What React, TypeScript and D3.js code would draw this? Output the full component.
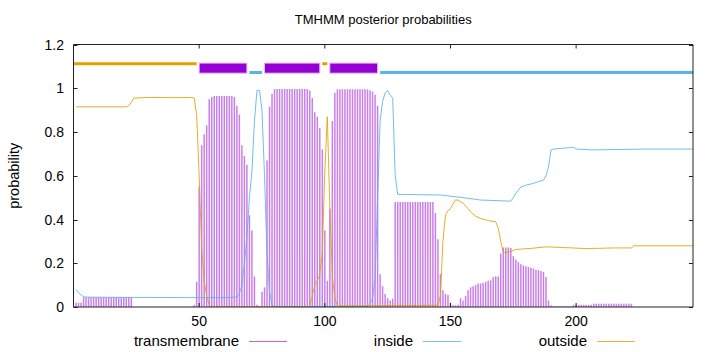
import React from 'react';
import * as d3 from 'd3';

// TMHMM per-residue posterior probabilities
const xDomain = [0, 246.5];
const yTicks = [0, 0.2, 0.4, 0.6, 0.8, 1, 1.2];
const xTicks = [50, 100, 150, 200];

// transmembrane probability, residue 1..247 (drawn as impulses)
const transmembrane = [
  0.02, 0.02, 0.02, 0.045, 0.045, 0.045, 0.045, 0.045, 0.045, 0.045,
  0.045, 0.045, 0.045, 0.045, 0.045, 0.045, 0.045, 0.045, 0.045, 0.045,
  0.045, 0.045, 0.045, 0, 0, 0, 0, 0, 0, 0,
  0, 0, 0, 0, 0, 0, 0, 0, 0, 0,
  0, 0, 0, 0, 0, 0, 0, 0.01, 0.115, 0.55,
  0.74, 0.79, 0.83, 0.95, 0.96, 0.965, 0.965, 0.965, 0.965, 0.965,
  0.965, 0.965, 0.965, 0.96, 0.92, 0.88, 0.74, 0.69, 0.65, 0.42,
  0.35, 0.14, 0.01, 0.005, 0.07, 0.09, 0.67, 0.915, 0.975, 0.997,
  0.997, 0.997, 0.997, 0.997, 0.997, 0.997, 0.997, 0.997, 0.997, 0.997,
  0.997, 0.997, 0.997, 0.99, 0.955, 0.89, 0.87, 0.82, 0.72, 0.35,
  0.12, 0.45, 0.85, 0.98, 0.996, 0.996, 0.996, 0.996, 0.996, 0.996,
  0.996, 0.996, 0.996, 0.996, 0.996, 0.996, 0.996, 0.99, 0.985, 0.97,
  0.92, 0.15, 0.095, 0.06, 0.04, 0.03, 0.038, 0.48, 0.48, 0.48,
  0.48, 0.48, 0.48, 0.48, 0.48, 0.48, 0.48, 0.48, 0.48, 0.48,
  0.48, 0.48, 0.48, 0.43, 0.31, 0.15, 0.077, 0.06, 0.055, 0.02,
  0.008, 0.008, 0.01, 0.04, 0.03, 0.05, 0.077, 0.09, 0.095, 0.1,
  0.107, 0.107, 0.11, 0.115, 0.12, 0.122, 0.137, 0.14, 0.14, 0.245,
  0.272, 0.272, 0.272, 0.27, 0.232, 0.217, 0.206, 0.196, 0.19, 0.186,
  0.183, 0.18, 0.176, 0.17, 0.168, 0.165, 0.16, 0.137, 0.03, 0.008,
  0.003, 0.003, 0.003, 0.003, 0.003, 0.003, 0.003, 0.003, 0.01, 0.01,
  0.01, 0.01, 0.01, 0.01, 0.01, 0.01, 0.015, 0.015, 0.015, 0.015,
  0.015, 0.015, 0.015, 0.015, 0.015, 0.015, 0.015, 0.015, 0.015, 0.015,
  0.015, 0.015, 0, 0, 0, 0, 0, 0, 0, 0,
  0, 0, 0, 0, 0, 0, 0, 0, 0, 0,
  0, 0, 0, 0, 0, 0, 0,
];

// [residue, probability]
const inside = [
  [1, 0.08], [2, 0.066], [3, 0.055], [4, 0.048], [5, 0.045], [20, 0.044],
  [45, 0.043], [60, 0.043], [65, 0.045], [66, 0.06], [67, 0.1], [68, 0.2],
  [69, 0.32], [70, 0.5], [71, 0.62], [72, 0.85], [73, 0.99], [74, 0.99],
  [75, 0.9], [76, 0.6], [77, 0.25], [78, 0.07], [79, 0.01], [80, 0.002],
  [117, 0.003], [118, 0.015], [119, 0.04], [120, 0.13], [121, 0.5],
  [122, 0.85], [123, 0.94], [124, 0.98], [125, 0.99], [126, 0.97],
  [127, 0.955], [128, 0.6], [129, 0.515], [146, 0.512], [155, 0.5],
  [162, 0.489], [174, 0.484], [175, 0.5], [176, 0.52], [177, 0.535],
  [178, 0.548], [180, 0.557], [183, 0.565], [185, 0.573], [187, 0.58],
  [188, 0.6], [189, 0.64], [190, 0.718], [191, 0.722], [199, 0.73],
  [200, 0.722], [207, 0.718], [227, 0.722], [247, 0.722],
];

const outside = [
  [1, 0.915], [21, 0.915], [22, 0.92], [23, 0.935], [24, 0.955], [30, 0.958],
  [40, 0.957], [47, 0.958], [48, 0.955], [49, 0.88], [50, 0.6], [51, 0.27],
  [52, 0.12], [53, 0.05], [54, 0.01], [55, 0], [93, 0], [94, 0.005],
  [95, 0.05], [96, 0.1], [97, 0.12], [98, 0.15], [99, 0.25], [100, 0.62],
  [101, 0.87], [102, 0.45], [103, 0.14], [104, 0.04], [105, 0.005],
  [145, 0.008], [146, 0.05], [147, 0.3], [148, 0.42], [149, 0.44],
  [150, 0.45], [151, 0.47], [152, 0.49], [153, 0.488], [155, 0.475],
  [157, 0.45], [158, 0.435], [160, 0.415], [162, 0.405], [165, 0.395],
  [168, 0.39], [169, 0.36], [170, 0.3], [171, 0.25], [173, 0.25],
  [176, 0.263], [182, 0.268], [188, 0.275], [195, 0.272], [204, 0.267],
  [215, 0.27], [222, 0.27], [223, 0.28], [247, 0.28],
];

// predicted topology shown above the curves
const segStart = [0, 50, 70, 76, 99, 102, 122];
const segEnd = [49, 69, 75, 98, 101, 121, 247];
const segType = ['outside', 'TM', 'inside', 'TM', 'outside', 'TM', 'inside'];

const W = 720;
const H = 352;
const left = 73.5, right = 693, top = 44.5, bottom = 307;

const purple = '#9400d3';
const blue = '#56b4e9';
const orange = '#e69f00';
const font = '"Liberation Sans", Arial, sans-serif';

export default function App() {
  const x = d3.scaleLinear().domain(xDomain).range([left, right]);
  const y = d3.scaleLinear().domain([0, 1.2]).range([bottom, top]);
  const line = d3.line<number[]>().x(d => x(d[0])).y(d => y(d[1]));

  return (
    <svg width={W} height={H} style={{ position: 'absolute', left: 0, top: 0 }}
      fontFamily={font}>
      <defs>
        <clipPath id="plot">
          <rect x={left} y={top} width={right - left} height={bottom - top} />
        </clipPath>
      </defs>
      <rect width={W} height={H} fill="#fff" />

      <text x={(left + right) / 2} y={24} textAnchor="middle" fontSize={13}>
        TMHMM posterior probabilities
      </text>

      <g clipPath="url(#plot)">
        {transmembrane.map((v, i) => (
          <line key={i} x1={x(i + 1)} x2={x(i + 1)} y1={y(0)} y2={y(v)}
            stroke={purple} strokeWidth={1.5} strokeOpacity={0.5} />
        ))}
        <path d={line(inside) ?? ''} fill="none" stroke={blue} strokeWidth={1} strokeOpacity={0.85} />
        <path d={line(outside) ?? ''} fill="none" stroke={orange} strokeWidth={1} strokeOpacity={0.85} />

        {segType.map((t, i) => {
          if (t === 'TM') {
            return (
              <rect key={i} x={x(segStart[i])} width={x(segEnd[i]) - x(segStart[i])}
                y={y(1.115)} height={y(1.069) - y(1.115)}
                fill={purple} stroke="#e2b8f2" strokeWidth={1} />
            );
          }
          const yy = t === 'outside' ? 1.112 : 1.0725;
          return (
            <line key={i} x1={x(segStart[i])} x2={x(segEnd[i])} y1={y(yy)} y2={y(yy)}
              stroke={t === 'outside' ? orange : blue} strokeWidth={3} />
          );
        })}
      </g>

      {/* frame */}
      <line x1={left} x2={left} y1={top} y2={bottom} stroke="#222" />
      <line x1={left} x2={right} y1={top} y2={top} stroke="#222" />
      <line x1={right} x2={right} y1={top} y2={bottom} stroke="#222" />
      <line x1={left} x2={right} y1={bottom} y2={bottom} stroke="#222" />

      {yTicks.map(t => (
        <g key={t}>
          <line x1={left} x2={left + 4} y1={Math.round(y(t)) + 0.5} y2={Math.round(y(t)) + 0.5} stroke="#222" />
          <line x1={right - 4} x2={right} y1={Math.round(y(t)) + 0.5} y2={Math.round(y(t)) + 0.5} stroke="#222" />
          <text x={64} y={y(t) + 5} textAnchor="end" fontSize={14}>{String(t)}</text>
        </g>
      ))}
      {xTicks.map(t => (
        <g key={t}>
          <line x1={x(t)} x2={x(t)} y1={bottom} y2={bottom - 4} stroke="#222" />
          <line x1={x(t)} x2={x(t)} y1={top} y2={top + 4} stroke="#222" />
          <text x={x(t)} y={326} textAnchor="middle" fontSize={14}>{t}</text>
        </g>
      ))}

      <text transform={`translate(19,${(top + bottom) / 2}) rotate(-90)`} textAnchor="middle" fontSize={14.5}>
        probability
      </text>

      {/* key */}
      {[
        { label: 'transmembrane', end: 239, color: purple, op: 0.6 },
        { label: 'inside', end: 413, color: blue, op: 0.8 },
        { label: 'outside', end: 587, color: orange, op: 0.8 },
      ].map(k => (
        <g key={k.label}>
          <text x={k.end} y={346} textAnchor="end" fontSize={15}>{k.label}</text>
          <line x1={k.end + 10} x2={k.end + 48} y1={341.5} y2={341.5}
            stroke={k.color} strokeOpacity={k.op} strokeWidth={1} />
        </g>
      ))}
    </svg>
  );
}
